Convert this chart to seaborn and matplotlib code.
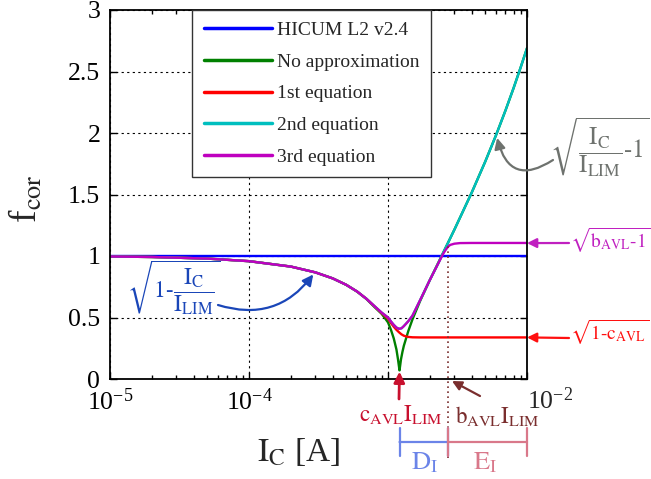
import matplotlib
matplotlib.use("Agg")
import matplotlib.pyplot as plt
import matplotlib.transforms as mtransforms
from matplotlib.ticker import FixedLocator, LogLocator, NullFormatter, FixedFormatter
import seaborn as sns

# ---------------- data ----------------
I_blue = [1e-5, 1e-2]
f_blue = [1.0, 1.0]

I_green = [1e-5, 2e-5, 5e-5, 1e-4, 2e-4, 3e-4, 4e-4, 5e-4, 6e-4, 7e-4, 8e-4, 9e-4,
           9.5e-4, 1.0e-3, 1.05e-3, 1.1e-3, 1.15e-3, 1.18e-3, 1.2e-3, 1.21e-3, 1.22e-3,
           1.24e-3, 1.27e-3, 1.3e-3, 1.4e-3, 1.5e-3, 1.7e-3, 2.0e-3, 2.5e-3, 3e-3,
           4e-3, 5e-3, 6e-3, 7e-3, 8e-3, 9e-3, 1e-2]
f_green = [0.996, 0.992, 0.979, 0.958, 0.914, 0.867, 0.818, 0.766, 0.710, 0.650, 0.585, 0.53,
           0.495, 0.46, 0.40, 0.33, 0.24, 0.16, 0.10, 0.07, 0.10,
           0.16, 0.22, 0.27, 0.39, 0.485, 0.633, 0.805, 1.029, 1.213,
           1.515, 1.766, 1.985, 2.183, 2.364, 2.533, 2.690]

I_red = [1e-5, 2e-5, 5e-5, 1e-4, 2e-4, 3e-4, 4e-4, 5e-4, 6e-4, 7e-4, 8e-4, 9e-4,
         1.0e-3, 1.05e-3, 1.1e-3, 1.15e-3, 1.2e-3, 1.25e-3, 1.3e-3, 1.35e-3, 1.4e-3,
         1.5e-3, 1.7e-3, 2e-3, 1e-2]
f_red = [0.996, 0.992, 0.979, 0.958, 0.914, 0.867, 0.818, 0.766, 0.711, 0.652, 0.59, 0.535,
         0.49, 0.455, 0.425, 0.40, 0.38, 0.363, 0.352, 0.346, 0.342,
         0.339, 0.338, 0.338, 0.338]

I_cyan = [1e-5, 2e-5, 5e-5, 1e-4, 2e-4, 3e-4, 4e-4, 5e-4, 6e-4, 7e-4, 8e-4, 9e-4,
          1.0e-3, 1.05e-3, 1.1e-3, 1.15e-3, 1.2e-3, 1.25e-3, 1.3e-3, 1.4e-3, 1.5e-3,
          1.7e-3, 2.0e-3, 2.3e-3, 2.5e-3, 2.7e-3, 3e-3, 4e-3, 5e-3, 6e-3, 7e-3, 8e-3,
          9e-3, 1e-2]
f_cyan = [0.996, 0.992, 0.979, 0.958, 0.914, 0.867, 0.818, 0.766, 0.711, 0.652, 0.592, 0.54,
          0.50, 0.468, 0.44, 0.418, 0.408, 0.412, 0.43, 0.47, 0.515,
          0.64, 0.805, 0.94, 1.029, 1.106, 1.213, 1.515, 1.766, 1.985, 2.183, 2.364,
          2.533, 2.690]

I_purple = [1e-5, 2e-5, 5e-5, 1e-4, 2e-4, 3e-4, 4e-4, 5e-4, 6e-4, 7e-4, 8e-4, 9e-4,
            1.0e-3, 1.05e-3, 1.1e-3, 1.15e-3, 1.2e-3, 1.25e-3, 1.3e-3, 1.4e-3, 1.5e-3,
            1.7e-3, 2.0e-3, 2.3e-3, 2.5e-3, 2.6e-3, 2.7e-3, 2.8e-3, 3.0e-3, 3.3e-3,
            4e-3, 1e-2]
f_purple = [0.996, 0.992, 0.979, 0.958, 0.914, 0.867, 0.818, 0.766, 0.711, 0.652, 0.592, 0.54,
            0.50, 0.468, 0.44, 0.418, 0.408, 0.412, 0.43, 0.47, 0.515,
            0.64, 0.805, 0.94, 1.02, 1.05, 1.075, 1.09, 1.10, 1.105,
            1.106, 1.106]

series_names = ["HICUM L2 v2.4", "No approximation", "1st equation", "2nd equation", "3rd equation"]
series_colors = ["#0000ff", "#008000", "#ff0000", "#00bfbf", "#bf00bf"]

x_ticks = [1e-5, 1e-4, 1e-3, 1e-2]
x_tick_labels = [r"$\mathdefault{10^{-5}}$", r"$\mathdefault{10^{-4}}$", "", ""]
y_ticks = [0, 0.5, 1, 1.5, 2, 2.5, 3]
y_tick_labels = ["0", "0.5", "1", "1.5", "2", "2.5", "3"]

I_cavl = 1.21e-3      # c_AVL * I_LIM
I_bavl = 2.7e-3       # b_AVL * I_LIM
f_bavl = 1.105        # sqrt(b_AVL - 1)
f_cavl = 0.338        # sqrt(1 - c_AVL)

# ---------------- style ----------------
sns.set_style("ticks")
plt.rcParams["font.family"] = "serif"
plt.rcParams["font.serif"] = ["Liberation Serif", "STIXGeneral", "DejaVu Serif"]
plt.rcParams["mathtext.fontset"] = "stix"
plt.rcParams["axes.unicode_minus"] = False
SERIF = ["Liberation Serif", "STIXGeneral"]

W, H = 651, 479
fig = plt.figure(figsize=(W / 100, H / 100), dpi=100)
ax = fig.add_axes([110 / W, 1 - 379 / H, 417 / W, 369 / H])


def fp(px, py):
    return (px / W, 1 - py / H)


data = [(I_blue, f_blue), (I_green, f_green), (I_red, f_red), (I_cyan, f_cyan), (I_purple, f_purple)]
for (I, f), name, col in zip(data, series_names, series_colors):
    sns.lineplot(x=I, y=f, ax=ax, color=col, lw=1.7, label=name, sort=False, estimator=None)

ax.set_xscale("log")
ax.set_xlim(1e-5, 1e-2)
ax.set_ylim(0, 3)
ax.xaxis.set_major_locator(FixedLocator(x_ticks))
ax.xaxis.set_major_formatter(FixedFormatter(x_tick_labels))
ax.xaxis.set_minor_locator(LogLocator(base=10, subs=range(2, 10)))
ax.xaxis.set_minor_formatter(NullFormatter())
ax.set_yticks(y_ticks)
ax.set_yticklabels(y_tick_labels)
ax.tick_params(which="both", direction="in", top=True, right=True, colors="k",
               labelsize=18.5, width=1)
ax.tick_params(which="major", length=5, pad=7)
ax.tick_params(which="minor", length=3)
for lab in ax.get_xticklabels() + ax.get_yticklabels():
    lab.set_family(SERIF)
ax.grid(True, which="major", color="k", ls=(0, (2, 3)), lw=0.8)
for s in ax.spines.values():
    s.set_linewidth(1.3)
    s.set_color("k")

ax.set_ylabel(r"f$_{\mathrm{cor}}$", fontsize=27, family=SERIF)
ax.yaxis.set_label_coords(-0.155, 0.49)
ax.set_xlabel(r"$\mathrm{I_C}$ [A]", fontsize=24, family=SERIF)
ax.xaxis.set_label_coords(0.451, -0.155)

fig.text(*fp(527, 401), r"$\mathdefault{10^{-2}}$", fontsize=18.5, ha="left", va="center", family=SERIF)

leg = ax.legend(loc="upper left", bbox_to_anchor=(0.197, 1.0),
                prop={"family": SERIF, "size": 14},
                handlelength=3.5, handletextpad=0.25, borderpad=0.6, labelspacing=0.72,
                frameon=True, fancybox=False, edgecolor="#333333", framealpha=1,
                borderaxespad=0)
leg.get_frame().set_linewidth(1.0)
for ln in leg.get_lines():
    ln.set_linewidth(2.5)

# ---------------- annotations ----------------
blue_t = "#1a46b8"
gray_t = "#6e726e"
mag_t = "#c020c0"
red_t = "#ff1010"
crim = "#c8102e"
brown = "#7a2e2e"

# sqrt(1 - Ic/Ilim)
fig.text(*fp(174, 288), r"$\sqrt{\text{1-}\dfrac{\mathrm{I_C}}{\mathrm{I_{LIM}}}}$", color=blue_t,
         fontsize=17, ha="center", va="center", family=SERIF)
ax.annotate("", xy=(2.9e-4, 0.85), xycoords="data", xytext=fp(218, 305), textcoords="figure fraction",
            arrowprops=dict(arrowstyle="-|>", color=blue_t, lw=1.6, mutation_scale=16,
                            shrinkA=0, shrinkB=0, connectionstyle="arc3,rad=0.35"))

# sqrt(Ic/Ilim - 1)
fig.text(*fp(600, 147), r"$\sqrt{\dfrac{\mathrm{I_C}}{\mathrm{I_{LIM}}}\text{-1}}$", color=gray_t,
         fontsize=18, ha="center", va="center", family=SERIF)
ax.annotate("", xy=(6.1e-3, 1.96), xycoords="data", xytext=fp(553, 160), textcoords="figure fraction",
            annotation_clip=False,
            arrowprops=dict(arrowstyle="-|>", color=gray_t, lw=1.6, mutation_scale=16,
                            shrinkA=0, shrinkB=0, connectionstyle="arc3,rad=-0.7"))

# sqrt(b_AVL - 1)
fig.text(*fp(570, 240), r"$\sqrt{\mathrm{b_{AVL}}\text{-1}}$", color=mag_t, fontsize=14,
         ha="left", va="center", family=SERIF)
ax.annotate("", xy=(1e-2, f_bavl), xycoords="data", xytext=fp(569, 243), textcoords="figure fraction",
            annotation_clip=False,
            arrowprops=dict(arrowstyle="-|>", color=mag_t, lw=1.6, mutation_scale=14,
                            shrinkA=0, shrinkB=0))

# sqrt(1 - c_AVL)
fig.text(*fp(570, 332), r"$\sqrt{\text{1-}\mathrm{c_{AVL}}}$", color=red_t, fontsize=14,
         ha="left", va="center", family=SERIF)
ax.annotate("", xy=(1e-2, f_cavl), xycoords="data", xytext=fp(569, 338), textcoords="figure fraction",
            annotation_clip=False,
            arrowprops=dict(arrowstyle="-|>", color=red_t, lw=1.6, mutation_scale=14,
                            shrinkA=0, shrinkB=0))

# c_AVL I_LIM
fig.text(*fp(401, 415), r"$\mathrm{c_{AVL}I_{LIM}}$", color=crim, fontsize=16.5, ha="center",
         va="center", family=SERIF)
ax.annotate("", xy=(I_cavl, 0.06), xycoords="data", xytext=fp(399, 399), textcoords="figure fraction",
            annotation_clip=False,
            arrowprops=dict(arrowstyle="-|>", color=crim, lw=2.0, mutation_scale=16,
                            shrinkA=0, shrinkB=0))

# b_AVL I_LIM
fig.text(*fp(497, 417), r"$\mathrm{b_{AVL}I_{LIM}}$", color=brown, fontsize=16.5, ha="center",
         va="center", family=SERIF)
ax.annotate("", xy=fp(452, 381), xycoords="figure fraction", xytext=fp(480, 396),
            textcoords="figure fraction", annotation_clip=False,
            arrowprops=dict(arrowstyle="-|>", color=brown, lw=1.6, mutation_scale=14,
                            shrinkA=0, shrinkB=0))

# dotted vertical line at b_AVL I_LIM
ax.axvline(I_bavl, ymin=-0.215, ymax=f_bavl / 3, ls=(0, (1, 2)), color=brown, lw=1.2, clip_on=False)

# D_I / E_I brackets
trans = mtransforms.blended_transform_factory(ax.transData, ax.transAxes)
yb = -(442 - 379) / 369
ax.annotate("", xy=(I_bavl, yb), xycoords=trans, xytext=(I_cavl, yb), textcoords=trans,
            annotation_clip=False,
            arrowprops=dict(arrowstyle="|-|,widthA=0.5,widthB=0.5", color="#6b84e8", lw=1.6,
                            mutation_scale=20, shrinkA=0, shrinkB=0))
ax.annotate("", xy=(1e-2, yb), xycoords=trans, xytext=(I_bavl, yb), textcoords=trans,
            annotation_clip=False,
            arrowprops=dict(arrowstyle="|-|,widthA=0.5,widthB=0.5", color="#d9788a", lw=1.6,
                            mutation_scale=20, shrinkA=0, shrinkB=0))
fig.text(*fp(425, 463), r"$\mathrm{D_I}$", color="#6b84e8", fontsize=19, ha="center", va="center",
         family=SERIF)
fig.text(*fp(485, 463), r"$\mathrm{E_I}$", color="#d9788a", fontsize=19, ha="center", va="center",
         family=SERIF)

fig.savefig("out.png", dpi=100)
